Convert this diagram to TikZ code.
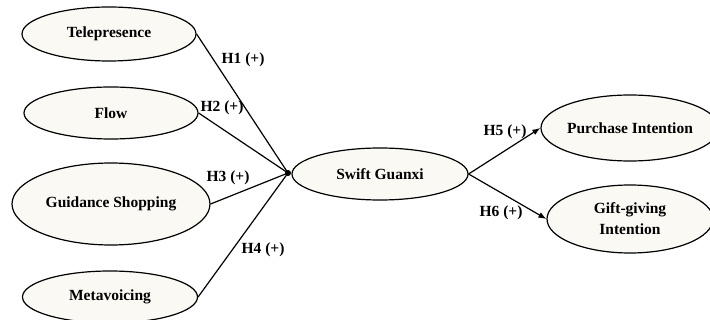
\documentclass[tikz,border=0pt]{standalone}
\usepackage{fontspec}
\setmainfont{Liberation Serif}
\usetikzlibrary{shapes.geometric,arrows.meta}
\definecolor{cream}{RGB}{251,249,243}
\tikzset{
  construct/.style={ellipse, draw=black, line width=1.2pt, fill=cream, inner sep=0pt, align=center, font=\bfseries\fontsize{15.5}{21}\selectfont},
  path/.style={line width=1.2pt, draw=black},
  hyp/.style={font=\bfseries\fontsize{15.5}{17}\selectfont, inner sep=0pt}
}
\begin{document}
\begin{tikzpicture}[x=1pt,y=-1pt]
\useasboundingbox (0,0) rectangle (710,320);
\clip (0,0) rectangle (710,320);
\fill[white] (0,0) rectangle (710,320);
\node[construct, minimum width=174pt, minimum height=54pt] (tele) at (109,34) {Telepresence};
\node[construct, minimum width=174pt, minimum height=52pt] (flow) at (111,113) {Flow};
\node[construct, minimum width=198pt, minimum height=82pt] (guid) at (111,204) {Guidance Shopping};
\node[construct, minimum width=175pt, minimum height=52pt] (meta) at (110,297) {Metavoicing};
\node[construct, minimum width=176pt, minimum height=52pt] (swift) at (380,174) {Swift Guanxi};
\node[construct, minimum width=166pt, minimum height=66pt] (purch) at (630,128) {Purchase Intention};
\node[construct, minimum width=166pt, minimum height=68pt] (gift) at (630,219) {Gift-giving\\Intention};
\coordinate (hub) at (288,173);
\draw[path] (tele.east) -- (hub);
\draw[path] (flow.east) -- (hub);
\draw[path] (guid.east) -- (hub);
\draw[path] (meta.east) -- (hub);
\fill[black] (hub) circle (3pt);
\draw[path, -{Latex[length=8pt,width=6pt]}] (swift.east) -- (purch.west);
\draw[path, -{Latex[length=8pt,width=6pt]}] (swift.east) -- (gift.west);
\node[hyp] (h1) at (243,60) {H1 (+)};
\node[hyp] (h2) at (222,108) {H2 (+)};
\node[hyp] (h3) at (228,178) {H3 (+)};
\node[hyp] (h4) at (263,250) {H4 (+)};
\node[hyp] (h5) at (505,132) {H5 (+)};
\node[hyp] (h6) at (501,213) {H6 (+)};
\end{tikzpicture}
\end{document}
